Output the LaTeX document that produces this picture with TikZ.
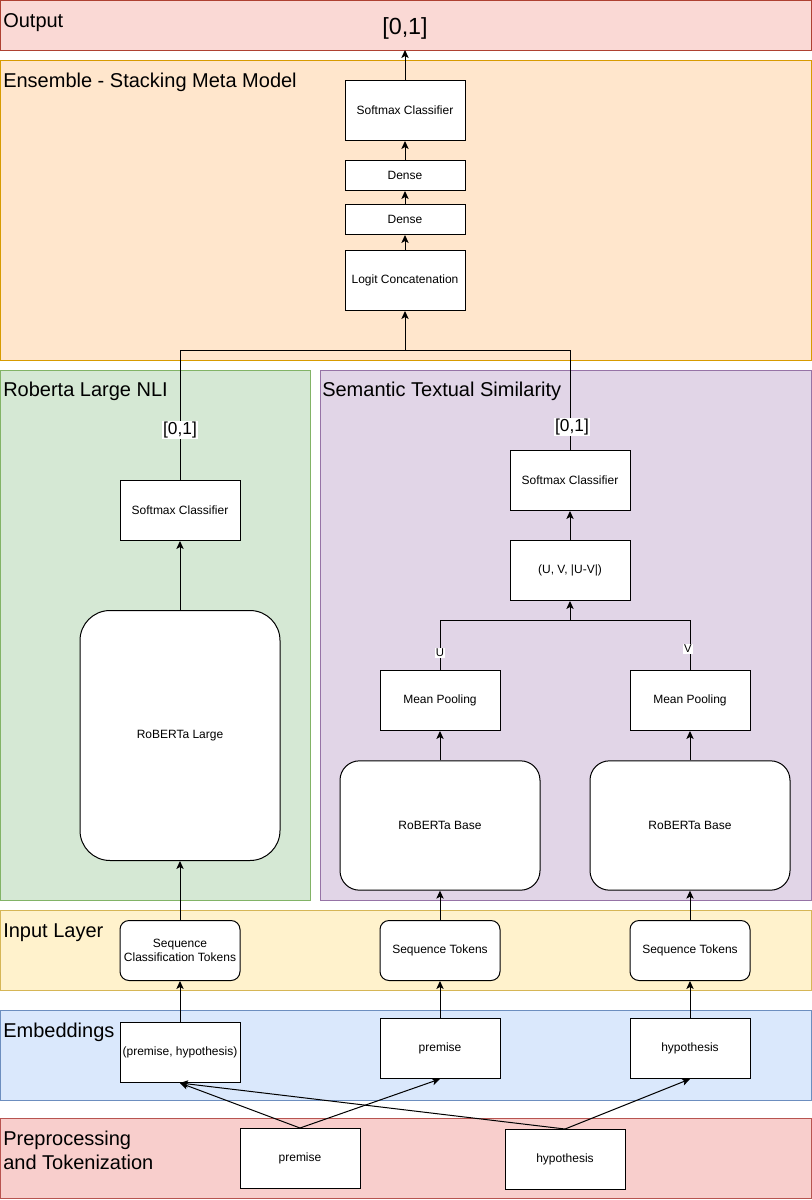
\documentclass[tikz,border=0pt]{standalone}
\usepackage{fontspec}
\setmainfont{Liberation Sans}
\usetikzlibrary{arrows.meta}
\definecolor{outfill}{HTML}{FAD9D5}
\definecolor{outdraw}{HTML}{AE4132}
\definecolor{ensfill}{HTML}{FFE6CC}
\definecolor{ensdraw}{HTML}{D79B00}
\definecolor{grnfill}{HTML}{D5E8D4}
\definecolor{grndraw}{HTML}{82B366}
\definecolor{purfill}{HTML}{E1D5E7}
\definecolor{purdraw}{HTML}{9673A6}
\definecolor{inpfill}{HTML}{FFF2CC}
\definecolor{inpdraw}{HTML}{D6B656}
\definecolor{embfill}{HTML}{DAE8FC}
\definecolor{embdraw}{HTML}{6C8EBF}
\definecolor{prefill}{HTML}{F8CECC}
\definecolor{predraw}{HTML}{B85450}
\begin{document}
\begin{tikzpicture}[x=0.75pt,y=-0.75pt,
  region/.style={line width=0.75pt},
  title/.style={anchor=base west, inner sep=0pt, font=\fontsize{15}{18}\selectfont},
  box/.style={draw, fill=white, line width=0.75pt, minimum width=90pt, minimum height=45pt,
              inner sep=0pt, align=center, font=\fontsize{9}{10.5}\selectfont},
  thin box/.style={box, minimum height=22.5pt},
  rbox/.style={box, rounded corners=6.75pt},
  lab/.style={fill=white, inner sep=0.6pt, font=\fontsize{13}{13}\selectfont},
  smalllab/.style={fill=white, inner sep=0.6pt, font=\fontsize{8.5}{8.5}\selectfont},
  arr/.style={line width=0.75pt, -{Stealth[length=6pt,width=5.5pt,inset=1.5pt]}},
  ln/.style={line width=0.75pt}]
\useasboundingbox (0,0) rectangle (812,1200);

% regions
\draw[region, fill=outfill, draw=outdraw] (0.5,0.5) rectangle (811.5,50);
\draw[region, fill=ensfill, draw=ensdraw] (0.5,60) rectangle (811.5,360);
\draw[region, fill=grnfill, draw=grndraw] (0.5,370) rectangle (310.5,900);
\draw[region, fill=purfill, draw=purdraw] (320.5,370) rectangle (811.5,900);
\draw[region, fill=inpfill, draw=inpdraw] (0.5,910) rectangle (811.5,990);
\draw[region, fill=embfill, draw=embdraw] (0.5,1010.5) rectangle (811.5,1100);
\draw[region, fill=prefill, draw=predraw] (0.5,1118) rectangle (811.5,1198);

% titles
\node[title] (tOut) at (3,27) {Output};
\node[title] (tEns) at (3,87) {Ensemble - Stacking Meta Model};
\node[title] (tRob) at (3,396.5) {Roberta Large NLI};
\node[title] (tSts) at (322,396.5) {Semantic Textual Similarity};
\node[title] (tInp) at (3,937) {Input Layer};
\node[title] (tEmb) at (3,1037) {Embeddings};
\node[title, align=left, anchor=north west] (tPre) at (3,1130.5) {Preprocessing\\and Tokenization};

% output
\node[inner sep=0pt, font=\fontsize{17.5}{17.5}\selectfont] (out) at (405,28) {[0,1]};
\coordinate (outB) at (405,50);

% ensemble
\node[box] (smE) at (405,110.5) {Softmax Classifier};
\node[thin box] (d1) at (405,175.5) {Dense};
\node[thin box] (d2) at (405,219.5) {Dense};
\node[box] (lc) at (405,280.5) {Logit Concatenation};

% roberta large branch
\node[box] (smL) at (180,510.5) {Softmax Classifier};
\node[box, minimum width=150pt, minimum height=187.5pt, rounded corners=22.5pt] (rl) at (180,735.5) {RoBERTa Large};

% STS branch
\node[box] (smR) at (570,480.5) {Softmax Classifier};
\node[box] (uv) at (570,570.5) {(U, V, |U-V|)};
\node[box] (mpL) at (440,700.5) {Mean Pooling};
\node[box] (mpR) at (690,700.5) {Mean Pooling};
\node[box, minimum width=150pt, minimum height=97pt, rounded corners=14.6pt] (rbL) at (440,825.5) {RoBERTa Base};
\node[box, minimum width=150pt, minimum height=97pt, rounded corners=14.6pt] (rbR) at (690,825.5) {RoBERTa Base};

% input layer
\node[rbox] (sct) at (180,950.5) {Sequence\\Classification Tokens};
\node[rbox] (stL) at (440,950.5) {Sequence Tokens};
\node[rbox] (stR) at (690,950.5) {Sequence Tokens};

% embeddings
\node[box] (ph) at (180,1052.5) {(premise, hypothesis)};
\node[box] (pr) at (440,1048.5) {premise};
\node[box] (hy) at (690,1048.5) {hypothesis};

% preprocessing
\node[box] (ppr) at (300,1158.5) {premise};
\node[box] (phy) at (565,1159.5) {hypothesis};

% merge coordinates
\coordinate (mL) at (180,350);
\coordinate (mC) at (405,350);
\coordinate (mR) at (570,350);
\coordinate (uL) at (440,620);
\coordinate (uC) at (570,620);
\coordinate (uR) at (690,620);

% connectors
\draw[arr] (smE) -- (outB);
\draw[arr] (d1) -- (smE);
\draw[arr] (d2) -- (d1);
\draw[arr] (lc) -- (d2);
\draw[ln] (smL.north) -- (mL) -- (mC);
\draw[ln] (smR.north) -- (mR) -- (mC);
\draw[arr] (mC) -- (lc);
\draw[arr] (rl) -- (smL);
\draw[arr] (uv) -- (smR);
\draw[ln] (mpL.north) -- (uL) -- (uC);
\draw[ln] (mpR.north) -- (uR) -- (uC);
\draw[arr] (uC) -- (uv);
\draw[arr] (rbL) -- (mpL);
\draw[arr] (rbR) -- (mpR);
\draw[arr] (sct) -- (rl);
\draw[arr] (stL) -- (rbL);
\draw[arr] (stR) -- (rbR);
\draw[arr] (ph) -- (sct);
\draw[arr] (pr) -- (stL);
\draw[arr] (hy) -- (stR);
\draw[arr] (ppr.north) -- (ph.south);
\draw[arr] (ppr.north) -- (pr.south);
\draw[arr] (phy.north) -- (ph.south);
\draw[arr] (phy.north) -- (hy.south);

% edge labels
\node[lab] (lL) at (180,430) {[0,1]};
\node[lab] (lR) at (572,427) {[0,1]};
\node[smalllab] (lU) at (440,653) {U};
\node[smalllab] (lV) at (688,649) {V};
\end{tikzpicture}
\end{document}
